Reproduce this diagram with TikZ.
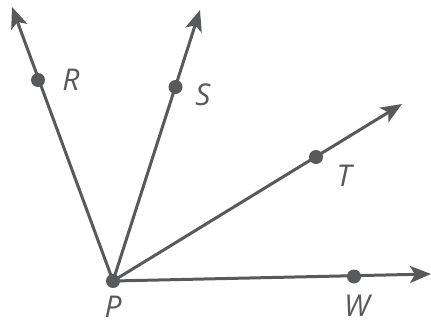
\documentclass[tikz,border=0pt]{standalone}
\usepackage{fontspec}
\setmainfont{Open Sans}
\usetikzlibrary{arrows.meta}
\definecolor{ink}{RGB}{88,89,91}
\begin{document}
\begin{tikzpicture}[x=1pt,y=-1pt,
  ray/.style={draw=ink,line width=3pt,-{Stealth[length=21pt,width=17pt,inset=5pt]}},
  dot/.style={circle,fill=ink,inner sep=0pt,minimum size=14pt},
  lab/.style={text=ink,font=\itshape\fontsize{30}{30}\selectfont,inner sep=0pt}]
\useasboundingbox (0,0) rectangle (431,327);
\coordinate (P) at (113,281);
\coordinate (rt) at (12,7);
\coordinate (st) at (200,10);
\coordinate (tt) at (402,104);
\coordinate (wt) at (431,274);
\draw[ray] (P) -- (rt);
\draw[ray] (P) -- (st);
\draw[ray] (P) -- (tt);
\draw[ray] (P) -- (wt);
\node[dot] (Pd) at (P) {};
\node[dot] (R) at (38,80) {};
\node[dot] (S) at (175.5,87) {};
\node[dot] (T) at (316,157) {};
\node[dot] (W) at (354,276.5) {};
\node[lab] (Rl) at (71,80) {R};
\node[lab] (Sl) at (203,95) {S};
\node[lab] (Tl) at (344,176) {T};
\node[lab] (Pl) at (113,307) {P};
\node[lab] (Wl) at (357,306) {W};
\end{tikzpicture}
\end{document}
